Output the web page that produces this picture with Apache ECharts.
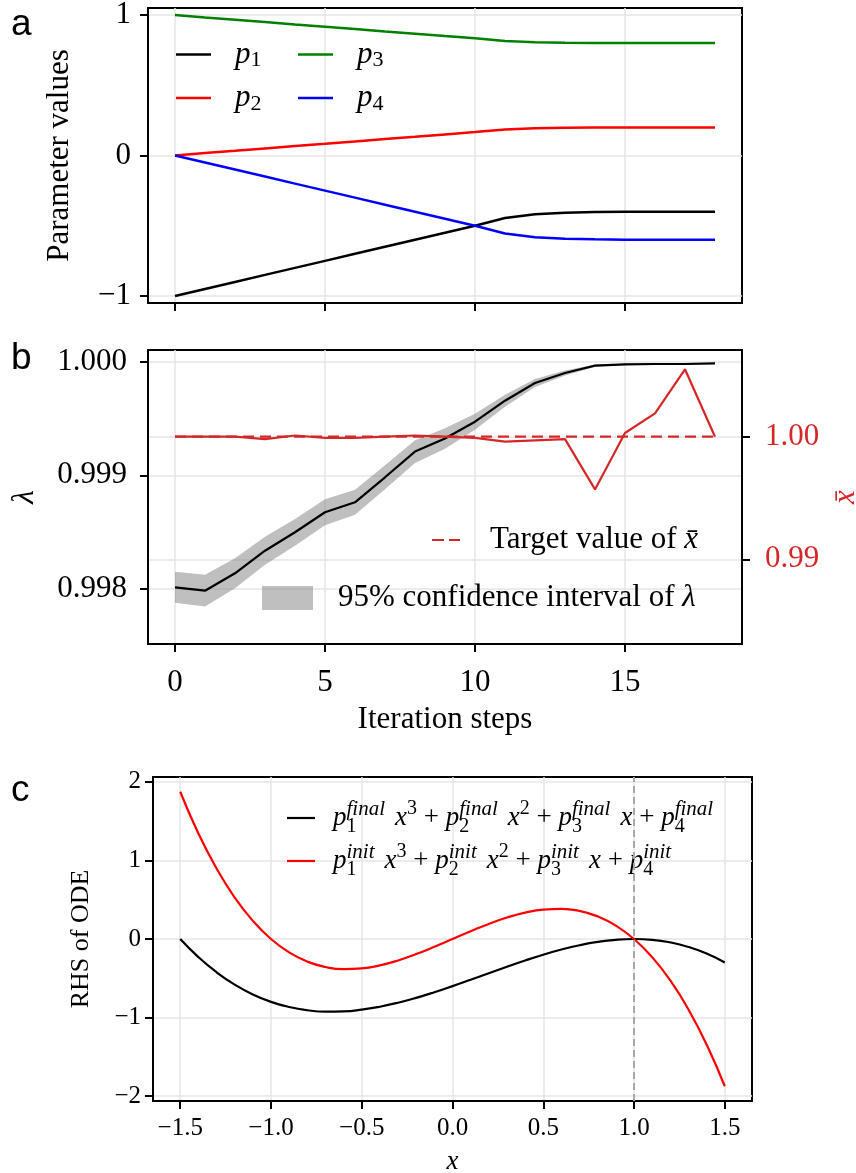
<!DOCTYPE html>
<html>
<head>
<meta charset="utf-8">
<script src="https://cdn.jsdelivr.net/npm/echarts@6/dist/echarts.min.js"></script>
<style>
html,body{margin:0;padding:0;background:#ffffff;}
#chart{width:856px;height:1173px;}
</style>
</head>
<body>
<div id="chart"></div>
<script>
// ---------------- data ----------------
const steps = [0, 1, 2, 3, 4, 5, 6, 7, 8, 9, 10, 11, 12, 13, 14, 15, 16, 17, 18];

// panel a: parameter values
const p1 = [-1.0, -0.95, -0.90, -0.85, -0.80, -0.75, -0.70, -0.65, -0.60, -0.55, -0.50, -0.445, -0.418, -0.407, -0.403, -0.401, -0.400, -0.400, -0.400];
const p2 = [0.0, 0.017, 0.033, 0.050, 0.067, 0.083, 0.100, 0.117, 0.133, 0.150, 0.167, 0.185, 0.194, 0.198, 0.199, 0.200, 0.200, 0.200, 0.200];
const p3 = [1.0, 0.983, 0.967, 0.950, 0.933, 0.917, 0.900, 0.883, 0.867, 0.850, 0.835, 0.815, 0.806, 0.802, 0.801, 0.800, 0.800, 0.800, 0.800];
const p4 = [0.0, -0.05, -0.10, -0.15, -0.20, -0.25, -0.30, -0.35, -0.40, -0.45, -0.50, -0.555, -0.582, -0.593, -0.597, -0.599, -0.600, -0.600, -0.600];

// panel b: lambda, its 95% CI, and x-bar
const lambda     = [0.998015, 0.997985, 0.998138, 0.998337, 0.998499, 0.998675, 0.998763, 0.998983, 0.999209, 0.999325, 0.999472, 0.999657, 0.999813, 0.999901, 0.999965, 0.999977, 0.999980, 0.999980, 0.999985];
const lambdaLow  = [0.997879, 0.997845, 0.998006, 0.998214, 0.998381, 0.998561, 0.998653, 0.998878, 0.999109, 0.999235, 0.999402, 0.999604, 0.999778, 0.999879, 0.999955, 0.999972, 0.999975, 0.999975, 0.999980];
const lambdaHigh = [0.998151, 0.998125, 0.998270, 0.998460, 0.998617, 0.998789, 0.998873, 0.999088, 0.999309, 0.999415, 0.999542, 0.999710, 0.999848, 0.999923, 0.999975, 0.999982, 0.999985, 0.999985, 0.999990];
const xbar       = [1.0000, 1.0000, 1.0000, 0.9998, 1.0001, 0.9999, 0.9999, 1.0000, 1.0001, 1.0000, 0.9999, 0.9996, 0.9997, 0.9998, 0.9957, 1.0003, 1.0019, 1.0055, 1.0000];
const xbarTarget = 1.0;

// panel c: RHS of ODE sampled along x
const xs = [-1.5, -1.4, -1.3, -1.2, -1.1, -1.0, -0.9, -0.8, -0.7, -0.6, -0.5, -0.4, -0.3, -0.2, -0.1, 0.0, 0.1, 0.2, 0.3, 0.4, 0.5, 0.6, 0.7, 0.8, 0.9, 1.0, 1.1, 1.2, 1.3, 1.4, 1.5];
const rhsFinal = [0.0, -0.230, -0.423, -0.581, -0.706, -0.800, -0.866, -0.907, -0.925, -0.922, -0.900, -0.862, -0.811, -0.749, -0.678, -0.600, -0.518, -0.435, -0.353, -0.274, -0.200, -0.134, -0.079, -0.037, -0.010, 0.0, -0.010, -0.043, -0.101, -0.186, -0.300];
const rhsInit  = [1.875, 1.344, 0.897, 0.528, 0.231, 0.0, -0.171, -0.288, -0.357, -0.384, -0.375, -0.336, -0.273, -0.192, -0.099, 0.0, 0.099, 0.192, 0.273, 0.336, 0.375, 0.384, 0.357, 0.288, 0.171, 0.0, -0.231, -0.528, -0.897, -1.344, -1.875];
const fixedPoint = 1.0;

// tick labels
const ticksParam = [-1, 0, 1];
const ticksStep = [0, 5, 10, 15];
const ticksLambda = [0.998, 0.999, 1.000];
const ticksXbar = [0.99, 1.00];
const ticksCx = [-1.5, -1.0, -0.5, 0.0, 0.5, 1.0, 1.5];
const ticksCy = [-2, -1, 0, 1, 2];

// ---------------- styling ----------------
const SERIF = '"Liberation Serif", "Times New Roman", "DejaVu Serif", serif';
const SANS = '"Liberation Sans", Arial, sans-serif';
const RED_B = '#d62728';
const BAND = 'rgba(128,128,128,0.5)';
const gridLine = {color: '#e6e6e6', width: 1.5};
const axisLineS = {show: true, onZero: false, lineStyle: {color: '#000', width: 2}};
const tickS = (vals) => ({show: true, length: 8, customValues: vals, lineStyle: {color: '#000', width: 2}});
const fmtNum = (d) => (v) => (v < 0 ? '\u2212' : '') + Math.abs(v).toFixed(d);

const pairs = (xsArr, ysArr) => xsArr.map((x, i) => [x, ysArr[i]]);

const lineSeries = (name, xi, yi, data, color, width, extra) => Object.assign({
  name: name, type: 'line', xAxisIndex: xi, yAxisIndex: yi, data: data,
  symbol: 'none', showSymbol: false, silent: true,
  lineStyle: {color: color, width: width}, itemStyle: {color: color}
}, extra || {});

const rhsLabel = (sup) =>
  `{m|p}{b|1}{t|${sup}}{g| }{m|x}{e|3}{r| + }{m|p}{b|2}{t|${sup}}{g| }{m|x}{e|2}{r| + }{m|p}{b|3}{t|${sup}}{g| }{m|x}{r| + }{m|p}{b|4}{t|${sup}}`;

const pLegendText = {fontFamily: SERIF, fontSize: 31, color: '#000', padding: [0, 0, 0, 19],
  rich: {i: {fontFamily: SERIF, fontSize: 31, fontStyle: 'italic', lineHeight: 34},
         s: {fontFamily: SERIF, fontSize: 22, lineHeight: 20, verticalAlign: 'bottom'}}};

const gridBase = {show: true, borderColor: '#000', borderWidth: 2, containLabel: false, outerBoundsMode: 'none'};

const option = {
  animation: false,
  backgroundColor: '#ffffff',
  grid: [
    Object.assign({left: 148, top: 8, width: 594, height: 295}, gridBase),
    Object.assign({left: 148, top: 350, width: 594, height: 294}, gridBase),
    Object.assign({left: 153, top: 777, width: 599, height: 324}, gridBase)
  ],
  xAxis: [
    {gridIndex: 0, type: 'value', min: -0.9, max: 18.9,
      axisLine: axisLineS, axisTick: tickS(ticksStep),
      axisLabel: {show: false, customValues: ticksStep},
      splitLine: {show: true, lineStyle: gridLine}},
    {gridIndex: 1, type: 'value', min: -0.9, max: 18.9,
      axisLine: axisLineS, axisTick: tickS(ticksStep),
      axisLabel: {show: true, customValues: ticksStep, fontFamily: SERIF, fontSize: 31, color: '#000', margin: 23, formatter: fmtNum(0)},
      splitLine: {show: true, lineStyle: gridLine},
      name: 'Iteration steps', nameLocation: 'middle', nameGap: 60,
      nameTextStyle: {fontFamily: SERIF, fontSize: 31, color: '#000'}},
    {gridIndex: 2, type: 'value', min: -1.65, max: 1.65,
      axisLine: axisLineS, axisTick: tickS(ticksCx),
      axisLabel: {show: true, customValues: ticksCx, fontFamily: SERIF, fontSize: 25, color: '#000', margin: 15, formatter: fmtNum(1)},
      splitLine: {show: true, lineStyle: gridLine},
      name: 'x', nameLocation: 'middle', nameGap: 47,
      nameTextStyle: {fontFamily: SERIF, fontSize: 27, fontStyle: 'italic', color: '#000'}}
  ],
  yAxis: [
    {gridIndex: 0, type: 'value', min: -1.05, max: 1.05,
      axisLine: axisLineS, axisTick: tickS(ticksParam),
      axisLabel: {show: true, customValues: ticksParam, fontFamily: SERIF, fontSize: 31, color: '#000', margin: 17, formatter: fmtNum(0)},
      splitLine: {show: true, lineStyle: gridLine},
      name: 'Parameter values', nameLocation: 'middle', nameRotate: 90, nameGap: 73,
      nameTextStyle: {fontFamily: SERIF, fontSize: 31, color: '#000'}},
    {gridIndex: 1, type: 'value', min: 0.997516, max: 1.000103,
      axisLine: axisLineS, axisTick: tickS(ticksLambda),
      axisLabel: {show: true, customValues: ticksLambda, fontFamily: SERIF, fontSize: 31, color: '#000', margin: 21, formatter: fmtNum(3)},
      splitLine: {show: true, lineStyle: gridLine},
      name: 'λ', nameLocation: 'middle', nameRotate: 90, nameGap: 108,
      nameTextStyle: {fontFamily: SERIF, fontSize: 31, fontStyle: 'italic', color: '#000'}},
    {gridIndex: 1, type: 'value', position: 'right', min: 0.983091, max: 1.007072,
      axisLine: axisLineS, axisTick: tickS(ticksXbar),
      axisLabel: {show: true, customValues: ticksXbar, fontFamily: SERIF, fontSize: 31, color: RED_B, margin: 23, formatter: fmtNum(2)},
      splitLine: {show: true, lineStyle: gridLine},
      name: 'x\u0304', nameLocation: 'middle', nameRotate: 90, nameGap: 85,
      nameTextStyle: {fontFamily: SERIF, fontSize: 31, fontStyle: 'italic', color: RED_B}},
    {gridIndex: 2, type: 'value', min: -2.0625, max: 2.0625,
      axisLine: axisLineS, axisTick: tickS(ticksCy),
      axisLabel: {show: true, customValues: ticksCy, fontFamily: SERIF, fontSize: 25, color: '#000', margin: 12, formatter: fmtNum(0)},
      splitLine: {show: true, lineStyle: gridLine},
      name: 'RHS of ODE', nameLocation: 'middle', nameRotate: 90, nameGap: 59,
      nameTextStyle: {fontFamily: SERIF, fontSize: 26, color: '#000'}}
  ],
  legend: [
    {data: ['p1', 'p2'], orient: 'vertical', left: 176, top: 39, padding: 0,
      icon: 'rect', itemWidth: 35, itemHeight: 2.5, itemGap: 11, selectedMode: false,
      formatter: (n) => `{i|p}{s|${n.slice(1)}}`, textStyle: pLegendText},
    {data: ['p3', 'p4'], orient: 'vertical', left: 298, top: 39, padding: 0,
      icon: 'rect', itemWidth: 35, itemHeight: 2.5, itemGap: 11, selectedMode: false,
      formatter: (n) => `{i|p}{s|${n.slice(1)}}`, textStyle: pLegendText},
    {data: ['Target value of x\u0304'], left: 432, top: 522, padding: 0,
      icon: 'path://M0,0h12v2h-12z M17,0h11v2h-11z', itemWidth: 28, itemHeight: 2.2, selectedMode: false,
      formatter: () => 'Target value of {i|x\u0304}',
      textStyle: {fontFamily: SERIF, fontSize: 31, color: '#000', lineHeight: 36, padding: [0, 0, 0, 25],
        rich: {i: {fontFamily: SERIF, fontSize: 31, fontStyle: 'italic', lineHeight: 36}}}},
    {data: [{name: '95% confidence interval of λ', icon: 'rect', itemStyle: {color: BAND}}],
      left: 262, top: 580, padding: 0,
      itemWidth: 51, itemHeight: 24, selectedMode: false,
      formatter: () => '95% confidence interval of {i|λ}',
      textStyle: {fontFamily: SERIF, fontSize: 31, color: '#000', lineHeight: 36, padding: [0, 0, 0, 20],
        rich: {i: {fontFamily: SERIF, fontSize: 31, fontStyle: 'italic', lineHeight: 36}}}},
    {data: ['final', 'init'], orient: 'vertical', left: 287, top: 799, padding: 0,
      icon: 'rect', itemWidth: 28, itemHeight: 2.2, itemGap: 5, selectedMode: false,
      formatter: (n) => rhsLabel(n),
      textStyle: {fontFamily: SERIF, fontSize: 27, color: '#000', padding: [0, 0, 0, 13],
        rich: {m: {fontFamily: SERIF, fontSize: 27, fontStyle: 'italic', lineHeight: 38},
               r: {fontFamily: SERIF, fontSize: 27, lineHeight: 38},
               g: {fontFamily: SERIF, fontSize: 27, width: 10, lineHeight: 38},
               b: {fontFamily: SERIF, fontSize: 20, lineHeight: 20, verticalAlign: 'bottom', width: 0},
               t: {fontFamily: SERIF, fontSize: 21, fontStyle: 'italic', lineHeight: 18, verticalAlign: 'top'},
               e: {fontFamily: SERIF, fontSize: 20, lineHeight: 18, verticalAlign: 'top'}}}}
  ],
  graphic: [
    {type: 'text', left: 11, top: 6, style: {text: 'a', font: '37px ' + SANS, fill: '#000'}},
    {type: 'text', left: 11, top: 340, style: {text: 'b', font: '37px ' + SANS, fill: '#000'}},
    {type: 'text', left: 11, top: 772, style: {text: 'c', font: '37px ' + SANS, fill: '#000'}}
  ],
  series: [
    // panel a
    lineSeries('p1', 0, 0, pairs(steps, p1), '#000000', 2.5),
    lineSeries('p2', 0, 0, pairs(steps, p2), '#ff0000', 2.5),
    lineSeries('p3', 0, 0, pairs(steps, p3), '#008000', 2.5),
    lineSeries('p4', 0, 0, pairs(steps, p4), '#0000ff', 2.5),
    // panel b: CI band as one polygon through the axis scales
    {
      name: '95% confidence interval of λ', type: 'custom', xAxisIndex: 1, yAxisIndex: 1,
      silent: true, z: 1, itemStyle: {color: BAND},
      data: steps.map((s, i) => [s, lambdaLow[i], lambdaHigh[i]]),
      encode: {x: 0, y: [1, 2]},
      renderItem: (params, api) => {
        if (params.dataIndex !== 0) return null;
        const upper = steps.map((s, i) => api.coord([s, lambdaHigh[i]]));
        const lower = steps.map((s, i) => api.coord([s, lambdaLow[i]])).reverse();
        return {type: 'polygon', shape: {points: upper.concat(lower)}, style: {fill: BAND}};
      }
    },
    lineSeries('λ', 1, 1, pairs(steps, lambda), '#000000', 2.2, {z: 3}),
    lineSeries('x\u0304', 1, 2, pairs(steps, xbar), RED_B, 2.2, {z: 4}),
    lineSeries('Target value of x\u0304', 1, 2,
      [[steps[0], xbarTarget], [steps[steps.length - 1], xbarTarget]], RED_B, 2.2,
      {z: 4, lineStyle: {color: RED_B, width: 2.2, type: [11, 6]}}),
    // panel c
    lineSeries('final', 2, 3, pairs(xs, rhsFinal), '#000000', 2.2,
      {smooth: true, markLine: {silent: true, symbol: ['none', 'none'], label: {show: false},
        lineStyle: {color: '#a8a8a8', width: 2, type: [7, 4]}, data: [{xAxis: fixedPoint}]}}),
    lineSeries('init', 2, 3, pairs(xs, rhsInit), '#ff0000', 2.2, {smooth: true})
  ]
};

const chart = echarts.init(document.getElementById('chart'), null, {renderer: 'canvas', width: 856, height: 1173});
chart.setOption(option);
</script>
</body>
</html>
